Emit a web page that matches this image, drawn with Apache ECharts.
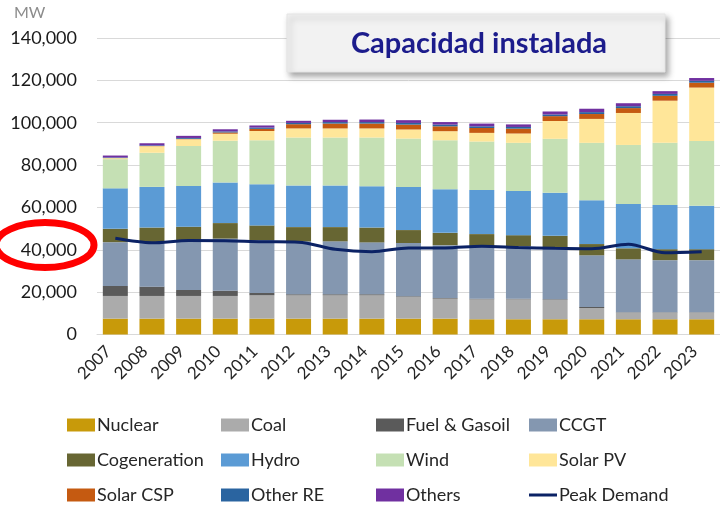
<!DOCTYPE html>
<html>
<head>
<meta charset="utf-8">
<title>Capacidad instalada</title>
<script src="https://cdn.jsdelivr.net/npm/echarts@6/dist/echarts.min.js"></script>
<style>
  html, body { margin: 0; padding: 0; background: #fff; }
  #chart { width: 720px; height: 506px; }
</style>
</head>
<body>
<div id="chart"></div>
<script>
// 年份
const years = ['2007', '2008', '2009', '2010', '2011', '2012', '2013', '2014', '2015',
  '2016', '2017', '2018', '2019', '2020', '2021', '2022', '2023']

// 装机容量 (MW)
const nuclear = [7500, 7500, 7500, 7500, 7500, 7500, 7500, 7500, 7500, 7500, 7200, 7200, 7200, 7200, 7200, 7200, 7200]
const coal = [10700, 10700, 10700, 10700, 11000, 11000, 11000, 11000, 10300, 9400, 9400, 9400, 9100, 5300, 3100, 3100, 3100]
const fuelGasoil = [4700, 4400, 2800, 2500, 1100, 500, 500, 500, 300, 300, 300, 300, 300, 500, 200, 200, 200]
const ccgt = [20700, 21000, 23300, 24600, 25000, 25000, 25000, 24500, 25100, 25000, 24800, 24800, 24500, 24400, 25000, 24600, 24600]
const cogeneration = [6300, 6900, 6600, 7300, 6900, 6700, 6700, 7000, 6100, 5800, 5700, 5200, 5500, 5300, 5200, 5200, 5200]
const hydro = [19100, 19200, 19200, 19200, 19500, 19700, 19700, 19500, 20300, 20600, 20800, 20800, 20300, 20700, 20900, 20800, 20500]
const wind = [13800, 16100, 18900, 19700, 20700, 22600, 22600, 23000, 22900, 23100, 22900, 22800, 25500, 27100, 27900, 29400, 30600]
const solarPV = [500, 3100, 3200, 3300, 4400, 4300, 4300, 4300, 4300, 4300, 4100, 4400, 8400, 11300, 15100, 19900, 25200]
const solarCSP = [0, 100, 200, 600, 1000, 2000, 2300, 2300, 2300, 2300, 2300, 2300, 2300, 2300, 2300, 2300, 2300]
const otherRE = [300, 300, 400, 500, 600, 600, 700, 700, 800, 800, 800, 800, 800, 900, 900, 900, 900]
const others = [900, 1000, 1000, 1000, 1000, 1000, 1100, 1200, 1300, 1200, 1300, 1200, 1400, 1600, 1400, 1300, 1300]

// 峰值需求 (MW)
const peakDemand = [45400, 43300, 44400, 44300, 43800, 43600, 40200, 39100, 40900, 40900, 41700, 41100, 40700, 40500, 42600, 38600, 39100]

// y 轴刻度
const yMin = 0
const yMax = 140000
const yStep = 20000

const FONT = 'Lato, "Noto Sans", sans-serif'
const LINE_COLOR = '#0B2265'

// 堆叠柱子的顺序和颜色
const barDefs = [
  { name: 'Nuclear', data: nuclear, color: '#C89A0A' },
  { name: 'Coal', data: coal, color: '#ABABAB' },
  { name: 'Fuel & Gasoil', data: fuelGasoil, color: '#5A5A5A' },
  { name: 'CCGT', data: ccgt, color: '#8497B0' },
  { name: 'Cogeneration', data: cogeneration, color: '#676633' },
  { name: 'Hydro', data: hydro, color: '#5B9BD5' },
  { name: 'Wind', data: wind, color: '#C5E0B4' },
  { name: 'Solar PV', data: solarPV, color: '#FFE699' },
  { name: 'Solar CSP', data: solarCSP, color: '#C55A11' },
  { name: 'Other RE', data: otherRE, color: '#2A64A0' },
  { name: 'Others', data: others, color: '#7030A0' }
]

const series = barDefs.map(d => ({
  name: d.name,
  type: 'bar',
  stack: 'cap',
  barWidth: 25,
  data: d.data,
  itemStyle: { color: d.color },
  emphasis: { disabled: true }
}))

series.push({
  name: 'Peak Demand',
  type: 'line',
  data: peakDemand,
  symbol: 'none',
  smooth: 0.3,
  lineStyle: { color: LINE_COLOR, width: 3 },
  itemStyle: { color: LINE_COLOR },
  z: 5
})

// 图例：四列
const legendCols = [
  ['Nuclear', 'Cogeneration', 'Solar CSP'],
  ['Coal', 'Hydro', 'Other RE'],
  ['Fuel & Gasoil', 'Wind', 'Others'],
  ['CCGT', 'Solar PV', 'Peak Demand']
]
const legendLeft = [67, 221, 376, 529]

const legends = legendCols.map((col, i) => ({
  orient: 'vertical',
  left: legendLeft[i],
  top: 414.5,
  itemWidth: 28,
  itemHeight: 13,
  itemGap: 14,
  selectedMode: false,
  padding: 0,
  symbolKeepAspect: true,
  textStyle: {
    fontFamily: FONT, fontSize: 18, color: '#262626', lineHeight: 21,
    padding: [0, 0, 0, -3], width: 150, overflow: 'none'
  },
  data: col.map(n => n === 'Peak Demand'
    ? { name: n, icon: 'path://M0,0 L28,0 L28,3 L0,3 Z', itemStyle: { color: LINE_COLOR } }
    : { name: n, icon: 'rect' })
}))

const chart = echarts.init(document.getElementById('chart'))

chart.setOption({
  animation: false,
  backgroundColor: '#ffffff',
  grid: { left: 97, top: 38, width: 628, bottom: 171.5, containLabel: false },
  legend: legends,
  xAxis: {
    type: 'category',
    data: years,
    axisLine: { show: true, lineStyle: { color: '#D9D9D9', width: 1 } },
    axisTick: { show: false },
    axisLabel: {
      rotate: 45,
      interval: 0,
      margin: 7,
      padding: [0, 10, 0, 0],
      fontFamily: FONT,
      fontSize: 17,
      color: '#262626'
    }
  },
  yAxis: {
    type: 'value',
    min: yMin,
    max: yMax,
    interval: yStep,
    axisLine: { show: false },
    axisTick: { show: false },
    splitLine: { lineStyle: { color: '#D9D9D9', width: 1 } },
    axisLabel: {
      margin: 20,
      fontFamily: FONT,
      fontSize: 18,
      color: '#1A1A1A',
      formatter: v => v.toLocaleString('en-US')
    }
  },
  series: series,
  graphic: [
    // 单位
    {
      type: 'text',
      left: 14,
      top: 5,
      style: { text: 'MW', fontFamily: FONT, fontSize: 16, fill: '#8C8C8C' }
    },
    // 标题框
    {
      type: 'rect',
      shape: { x: 287, y: 14, width: 378, height: 58 },
      style: {
        fill: '#F2F2F2',
        stroke: '#E4E4E4',
        lineWidth: 1,
        shadowBlur: 6,
        shadowOffsetX: 3,
        shadowOffsetY: 4,
        shadowColor: 'rgba(0,0,0,0.35)'
      },
      z: 10
    },
    {
      type: 'text',
      x: 479,
      y: 44,
      style: {
        text: 'Capacidad instalada',
        fontFamily: FONT,
        fontSize: 29,
        fontWeight: 'bold',
        fill: '#1C1C8C',
        align: 'center',
        verticalAlign: 'middle'
      },
      z: 11
    },
    // 红色椭圆
    {
      type: 'ellipse',
      shape: { cx: 45, cy: 245, rx: 49, ry: 22.5 },
      style: { fill: 'none', stroke: '#FF0000', lineWidth: 7 },
      z: 12
    }
  ]
})
</script>
</body>
</html>
